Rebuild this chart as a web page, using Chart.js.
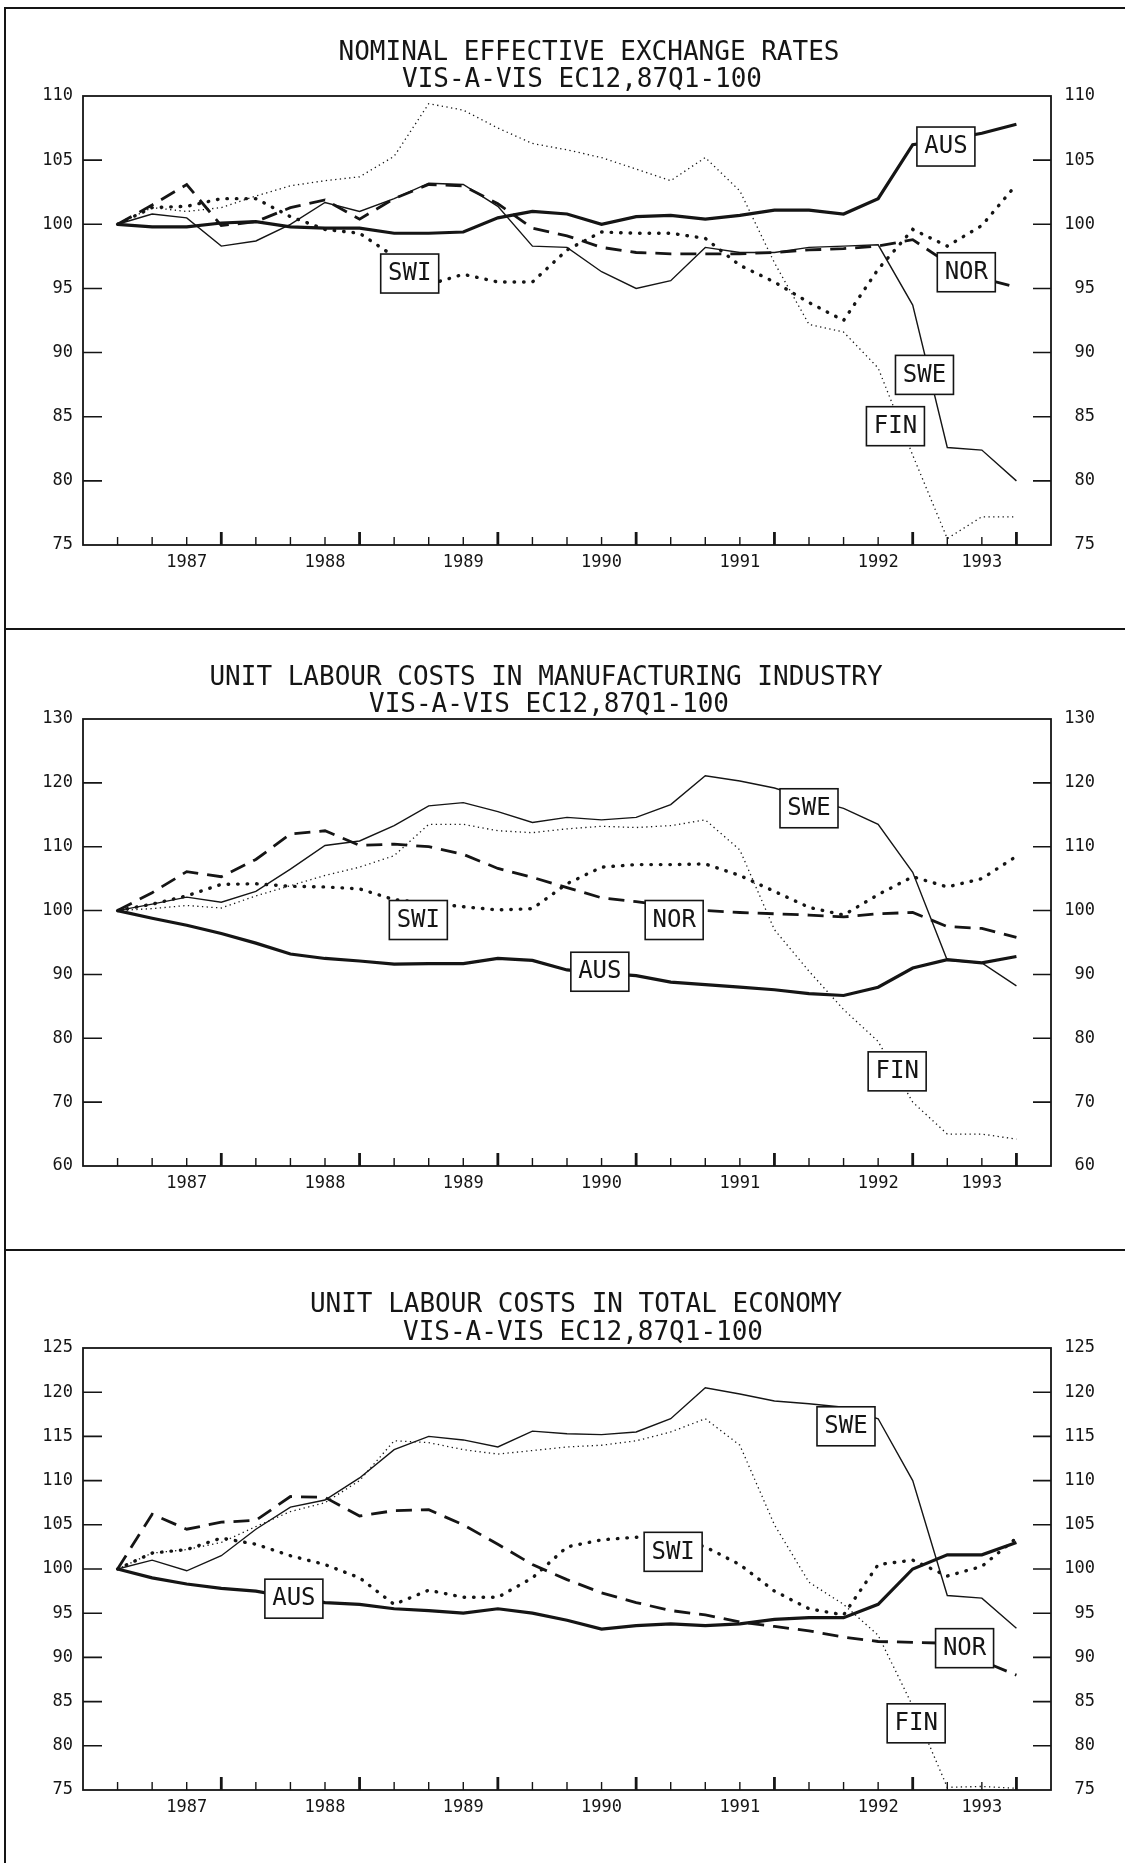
<!DOCTYPE html>
<html>
<head>
<meta charset="utf-8">
<script src="https://cdn.jsdelivr.net/npm/chart.js@4.4.1/dist/chart.umd.min.js"></script>
<style>
    body { margin: 0; background: #fff; }
    #page { position: relative; width: 1125px; height: 1863px; overflow: hidden; background: #fff; }
    .panel { position: absolute; left: 0; }
    .rule { position: absolute; background: #151515; }
</style>
</head>
<body>
<div id="page">
    <canvas id="nominalChart" class="panel" width="1125" height="630" style="top:0"></canvas>
    <canvas id="manufChart" class="panel" width="1125" height="620" style="top:630px"></canvas>
    <canvas id="totalChart" class="panel" width="1125" height="613" style="top:1250px"></canvas>
    <div class="rule" style="left:4px;top:7px;width:2px;height:1856px"></div>
    <div class="rule" style="left:4px;top:7px;width:1121px;height:2px"></div>
    <div class="rule" style="left:4px;top:628px;width:1121px;height:2px"></div>
    <div class="rule" style="left:4px;top:1249px;width:1121px;height:2px"></div>
</div>
<script>
// Quarters 87Q1 .. 93Q3
const QUARTERS = ['87Q1','87Q2','87Q3','87Q4','88Q1','88Q2','88Q3','88Q4','89Q1','89Q2','89Q3','89Q4',
    '90Q1','90Q2','90Q3','90Q4','91Q1','91Q2','91Q3','91Q4','92Q1','92Q2','92Q3','92Q4','93Q1','93Q2','93Q3'];
const YEAR_LABELS = ['1987','1988','1989','1990','1991','1992','1993'];
const YEAR_LABEL_AT = ['87Q3','88Q3','89Q3','90Q3','91Q3','92Q3','93Q2'];

// Nominal effective exchange rates
const NEER_AUS = [100,99.8,99.8,100.1,100.2,99.8,99.7,99.7,99.3,99.3,99.4,100.5,101.0,100.8,100.0,100.6,100.7,100.4,100.7,101.1,101.1,100.8,102.0,106.2,106.6,107.1,107.8];
const NEER_SWE = [100,100.8,100.5,98.3,98.7,100.0,101.7,101.0,102.0,103.2,103.1,101.4,98.3,98.2,96.3,95.0,95.6,98.2,97.8,97.8,98.2,98.3,98.4,93.7,82.6,82.4,80.0];
const NEER_NOR = [100,101.5,103.1,99.9,100.2,101.3,101.9,100.4,102.0,103.1,103.0,101.6,99.7,99.1,98.2,97.8,97.7,97.7,97.7,97.8,98.0,98.1,98.3,98.8,97.0,95.8,95.1];
const NEER_SWI = [100,101.3,101.4,102.0,102.0,100.6,99.6,99.3,97.5,95.3,96.1,95.5,95.5,98.0,99.4,99.3,99.3,98.9,96.8,95.5,93.9,92.5,96.5,99.6,98.3,99.9,103.1];
const NEER_FIN = [100,101.3,101.0,101.3,102.2,103.0,103.4,103.7,105.3,109.4,108.9,107.5,106.3,105.8,105.2,104.3,103.4,105.2,102.6,97.0,92.2,91.6,88.8,82.0,75.5,77.2,77.2];

// Unit labour costs, manufacturing
const ULCM_SWE = [100,101.0,102.1,101.3,103.0,106.5,110.2,110.9,113.3,116.4,116.9,115.5,113.8,114.6,114.2,114.6,116.6,121.1,120.3,119.2,117.5,116.0,113.5,106.0,92.2,91.8,88.2];
const ULCM_FIN = [100,100.3,100.8,100.4,102.3,103.9,105.5,106.8,108.6,113.5,113.5,112.5,112.2,112.8,113.2,113.0,113.3,114.2,109.5,97.0,90.5,84.5,79.5,70.0,65.0,65.0,64.2];
const ULCM_NOR = [100,102.8,106.1,105.3,108.0,112.0,112.5,110.2,110.4,110.0,108.8,106.6,105.2,103.6,102.0,101.4,100.7,100.0,99.7,99.5,99.3,99.0,99.5,99.7,97.5,97.2,95.8];
const ULCM_SWI = [100,101.0,102.3,104.1,104.2,103.8,103.7,103.4,101.7,101.2,100.6,100.1,100.3,104.2,106.8,107.2,107.2,107.3,105.5,103.0,100.5,99.3,102.5,105.3,103.7,105.0,108.5];
const ULCM_AUS = [100,98.8,97.7,96.4,94.9,93.2,92.5,92.1,91.6,91.7,91.7,92.5,92.2,90.7,90.2,89.8,88.8,88.4,88.0,87.6,87.0,86.7,88.0,91.0,92.3,91.8,92.8];

// Unit labour costs, total economy
const ULCT_SWE = [100,101.0,99.8,101.5,104.5,107.0,107.8,110.3,113.5,115.0,114.6,113.8,115.6,115.3,115.2,115.5,117.0,120.5,119.8,119.0,118.7,118.3,117.0,110.0,97.0,96.7,93.3];
const ULCT_FIN = [100,101.8,102.2,103.0,104.8,106.5,107.5,110.0,114.5,114.3,113.5,113.0,113.4,113.8,114.0,114.5,115.5,117.0,114.0,105.0,98.5,96.0,92.5,84.5,75.3,75.4,75.2];
const ULCT_NOR = [100,106.2,104.5,105.3,105.5,108.2,108.1,106.0,106.6,106.7,105.0,102.8,100.5,98.8,97.3,96.2,95.3,94.8,94.0,93.5,93.0,92.3,91.8,91.7,91.6,89.6,88.0];
const ULCT_SWI = [100,101.8,102.2,103.5,102.8,101.5,100.5,99.0,96.0,97.6,96.8,96.8,99.0,102.5,103.3,103.6,103.6,102.5,100.5,97.5,95.5,94.8,100.5,101.0,99.2,100.3,103.5];
const ULCT_AUS = [100,99.0,98.3,97.8,97.5,96.8,96.2,96.0,95.5,95.3,95.0,95.5,95.0,94.2,93.2,93.6,93.8,93.6,93.8,94.3,94.5,94.5,96.0,100.0,101.6,101.6,103.0];

const INK = '#151515';
const MONO = '"DejaVu Sans Mono", "Liberation Mono", monospace';

const LINE_STYLES = {
    AUS: { borderWidth: 3.2, borderDash: [] },
    SWE: { borderWidth: 1.4, borderDash: [] },
    NOR: { borderWidth: 2.8, borderDash: [16, 9] },
    SWI: { borderWidth: 3.4, borderDash: [0.5, 9], borderCapStyle: 'round' },
    FIN: { borderWidth: 1.3, borderDash: [1.3, 3.4] }
};

// ticks, frame, titles and series tags
const plotDecor = {
    id: 'plotDecor',
    beforeDatasetsDraw(chart) {
        const ctx = chart.ctx;
        const a = chart.chartArea;
        const xs = chart.scales.x, ys = chart.scales.y;
        ctx.save();
        ctx.strokeStyle = INK;
        ctx.lineWidth = 1.8;
        ctx.strokeRect(a.left, a.top, a.right - a.left, a.bottom - a.top);
        // quarter ticks on the x axis
        QUARTERS.forEach((q, i) => {
            const big = q.endsWith('Q4') || i === QUARTERS.length - 1;
            const x = xs.getPixelForValue(i + 1);
            ctx.lineWidth = big ? 2.8 : 1.4;
            ctx.beginPath();
            ctx.moveTo(x, a.bottom);
            ctx.lineTo(x, a.bottom - (big ? 13 : 8));
            ctx.stroke();
        });
        // inner ticks on both value axes
        ctx.lineWidth = 1.6;
        ys.ticks.forEach(t => {
            if (t.value <= ys.min || t.value >= ys.max) return;
            const y = ys.getPixelForValue(t.value);
            ctx.beginPath();
            ctx.moveTo(a.left, y); ctx.lineTo(a.left + 19, y);
            ctx.moveTo(a.right - 18, y); ctx.lineTo(a.right, y);
            ctx.stroke();
        });
        ctx.restore();
    },
    afterDatasetsDraw(chart, args, opts) {
        const ctx = chart.ctx;
        const xs = chart.scales.x, ys = chart.scales.y;
        ctx.save();
        ctx.font = '24px ' + MONO;
        ctx.textAlign = 'center';
        ctx.textBaseline = 'middle';
        opts.tags.forEach(tag => {
            const cx = xs.getPixelForValue(tag.at);
            const cy = ys.getPixelForValue(tag.v);
            ctx.fillStyle = '#fff';
            ctx.fillRect(cx - 29, cy - 19, 58, 39);
            ctx.strokeStyle = INK;
            ctx.lineWidth = 1.6;
            ctx.strokeRect(cx - 29, cy - 19, 58, 39);
            ctx.fillStyle = INK;
            ctx.fillText(tag.text, cx, cy + 1);
        });
        // two-line heading
        ctx.font = '26px ' + MONO;
        ctx.textBaseline = 'alphabetic';
        opts.title.forEach(line => ctx.fillText(line.text, line.cx, line.base));
        ctx.restore();
    }
};

function makeChart(id, cfg) {
    const datasets = cfg.series.map(s => Object.assign({
        label: s.name,
        data: s.values.map((v, i) => ({ x: i + 1, y: v })),
        borderColor: INK,
        pointRadius: 0,
        tension: 0,
        fill: false
    }, LINE_STYLES[s.name]));

    const valueTicks = { stepSize: cfg.step, color: INK, font: { family: MONO, size: 17 } };

    new Chart(document.getElementById(id), {
        type: 'line',
        data: { datasets: datasets },
        options: {
            responsive: false,
            animation: false,
            devicePixelRatio: 1,
            layout: { padding: { top: cfg.top, left: 0, right: 30, bottom: 0 } },
            plugins: {
                legend: { display: false },
                tooltip: { enabled: false },
                plotDecor: { tags: cfg.tags, title: cfg.title }
            },
            scales: {
                x: {
                    type: 'linear', min: 0, max: QUARTERS.length + 1,
                    grid: { display: false, drawTicks: false }, border: { display: false },
                    afterBuildTicks: s => { s.ticks = YEAR_LABEL_AT.map(q => ({ value: QUARTERS.indexOf(q) + 1 })); },
                    afterFit: s => { s.height = cfg.xHeight; },
                    ticks: {
                        autoSkip: false, maxRotation: 0, padding: 7, color: INK,
                        font: { family: MONO, size: 17 },
                        callback: v => YEAR_LABELS[YEAR_LABEL_AT.indexOf(QUARTERS[v - 1])]
                    }
                },
                y: {
                    position: 'left', min: cfg.min, max: cfg.max,
                    grid: { display: false, drawTicks: false }, border: { display: false },
                    afterFit: s => { s.width = 83; },
                    ticks: Object.assign({ padding: 10 }, valueTicks)
                },
                y2: {
                    position: 'right', min: cfg.min, max: cfg.max,
                    grid: { display: false, drawTicks: false }, border: { display: false },
                    afterFit: s => { s.width = 44; },
                    ticks: Object.assign({ padding: 12, crossAlign: 'far' }, valueTicks)
                }
            }
        },
        plugins: [plotDecor]
    });
}

makeChart('nominalChart', {
    min: 75, max: 110, step: 5, top: 96, xHeight: 85,
    series: [
        { name: 'FIN', values: NEER_FIN }, { name: 'SWI', values: NEER_SWI },
        { name: 'NOR', values: NEER_NOR }, { name: 'SWE', values: NEER_SWE },
        { name: 'AUS', values: NEER_AUS }
    ],
    tags: [
        { text: 'AUS', at: 24.96, v: 106.1 }, { text: 'SWI', at: 9.45, v: 96.2 },
        { text: 'NOR', at: 25.55, v: 96.3 }, { text: 'SWE', at: 24.34, v: 88.3 },
        { text: 'FIN', at: 23.5, v: 84.3 }
    ],
    title: [
        { text: 'NOMINAL EFFECTIVE EXCHANGE RATES', cx: 589, base: 60 },
        { text: 'VIS-A-VIS EC12,87Q1-100', cx: 582, base: 87 }
    ]
});

makeChart('manufChart', {
    min: 60, max: 130, step: 10, top: 89, xHeight: 84,
    series: [
        { name: 'FIN', values: ULCM_FIN }, { name: 'SWI', values: ULCM_SWI },
        { name: 'NOR', values: ULCM_NOR }, { name: 'SWE', values: ULCM_SWE },
        { name: 'AUS', values: ULCM_AUS }
    ],
    tags: [
        { text: 'SWE', at: 21.0, v: 116.1 }, { text: 'SWI', at: 9.7, v: 98.6 },
        { text: 'NOR', at: 17.1, v: 98.6 }, { text: 'AUS', at: 14.95, v: 90.5 },
        { text: 'FIN', at: 23.55, v: 74.9 }
    ],
    title: [
        { text: 'UNIT LABOUR COSTS IN MANUFACTURING INDUSTRY', cx: 546, base: 55 },
        { text: 'VIS-A-VIS EC12,87Q1-100', cx: 549, base: 82 }
    ]
});

makeChart('totalChart', {
    min: 75, max: 125, step: 5, top: 98, xHeight: 73,
    series: [
        { name: 'FIN', values: ULCT_FIN }, { name: 'SWI', values: ULCT_SWI },
        { name: 'NOR', values: ULCT_NOR }, { name: 'SWE', values: ULCT_SWE },
        { name: 'AUS', values: ULCT_AUS }
    ],
    tags: [
        { text: 'SWE', at: 22.07, v: 116.2 }, { text: 'SWI', at: 17.07, v: 102 },
        { text: 'AUS', at: 6.1, v: 96.7 }, { text: 'NOR', at: 25.5, v: 91.1 },
        { text: 'FIN', at: 24.1, v: 82.6 }
    ],
    title: [
        { text: 'UNIT LABOUR COSTS IN TOTAL ECONOMY', cx: 576, base: 62 },
        { text: 'VIS-A-VIS EC12,87Q1-100', cx: 583, base: 90 }
    ]
});
</script>
</body>
</html>
